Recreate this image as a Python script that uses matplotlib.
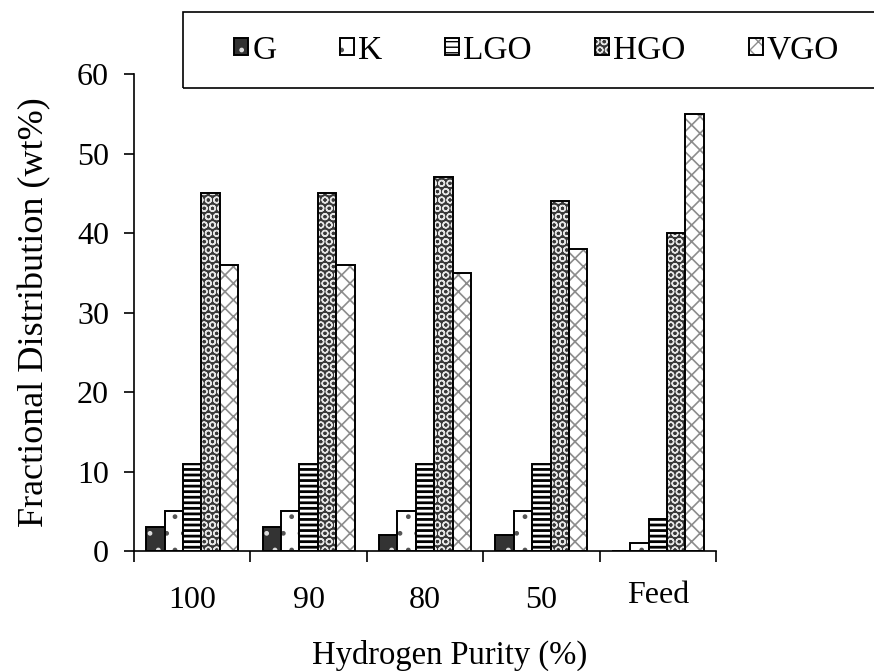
import matplotlib
matplotlib.use("Agg")
import matplotlib.pyplot as plt
import matplotlib.transforms as mtransforms
import numpy as np
from matplotlib.patches import Rectangle
from matplotlib.legend_handler import HandlerTuple

plt.rcParams['font.family'] = ['Liberation Serif', 'DejaVu Serif']

purity = ['100', '90', '80', '50', 'Feed']
G = [3, 3, 2, 2, 0]
K = [5, 5, 5, 5, 1]
LGO = [11, 11, 11, 11, 4]
HGO = [45, 45, 47, 44, 40]
VGO = [36, 36, 35, 38, 55]

series = [
    # name, values, face, hatch colour, hatch, hatch linewidth
    ('G', G, '#333333', '#dddddd', '.', 1.0),
    ('K', K, 'white', '#555555', '.', 1.0),
    ('LGO', LGO, 'white', 'black', '---', 2.0),
    ('HGO', HGO, '#383838', '#e6e6e6', 'OO', 1.0),
    ('VGO', VGO, 'white', '#8c8c8c', 'xx', 1.2),
]

fs = 23
fig = plt.figure(figsize=(8.74, 6.71), dpi=100)
ax = fig.add_axes([0.1533, 0.1788, 0.6659, 0.7109])

x = np.arange(len(purity))
w = 0.158
handles = []
for i, (name, vals, face, hc, hatch, hlw) in enumerate(series):
    pos = x + (i - 2) * w
    with plt.rc_context({'hatch.linewidth': hlw}):
        b1 = ax.bar(pos, vals, w, color=face, edgecolor=hc, hatch=hatch, linewidth=0)
    b2 = ax.bar(pos, vals, w, fill=False, edgecolor='black', linewidth=1.4)
    handles.append((b1, b2))

ax.set_xlim(-0.5, 4.5)
ax.set_ylim(0, 60)
ax.set_yticks(range(0, 61, 10))
ax.spines['top'].set_visible(False)
ax.spines['right'].set_visible(False)
for s in ['left', 'bottom']:
    ax.spines[s].set_linewidth(1.2)

# group boundaries as major ticks, category names on minor ticks
ax.set_xticks(np.arange(-0.5, 5, 1))
ax.set_xticklabels([])
ax.set_xticks(x, minor=True)
ax.set_xticklabels(purity, minor=True, fontsize=fs)
ax.tick_params(axis='x', which='major', direction='out', length=8, width=1.2)
ax.tick_params(axis='x', which='minor', length=0, pad=25)
ax.tick_params(axis='y', direction='out', length=7, width=1.2, labelsize=fs, pad=11)

# "Feed" sits a little higher than the numbers
feed = ax.xaxis.get_minorticklabels()[-1]
feed.set_transform(feed.get_transform() +
                   mtransforms.ScaledTranslation(0, 5 / 100, fig.dpi_scale_trans))

ax.set_xlabel('Hydrogen Purity (%)', fontsize=23.5)
ax.xaxis.set_label_coords(0.543, -0.185)
ax.set_ylabel('Fractional Distribution (wt%)', fontsize=26)
ax.yaxis.set_label_coords(-0.142, 0.5)

# legend box running off the right edge
fig.patches.append(Rectangle((0.2094, 0.869), 0.85, 0.113, transform=fig.transFigure,
                             fill=False, edgecolor='black', linewidth=1.2))
fig.legend([h for h in handles], [s[0] for s in series],
           handler_map={tuple: HandlerTuple(ndivide=1)},
           loc='center', bbox_to_anchor=(0.614, 0.925), ncol=5, frameon=False,
           fontsize=24, handlelength=0.42, handleheight=0.42, handletextpad=0.12,
           columnspacing=1.9)

fig.savefig('out.png', dpi=100)
